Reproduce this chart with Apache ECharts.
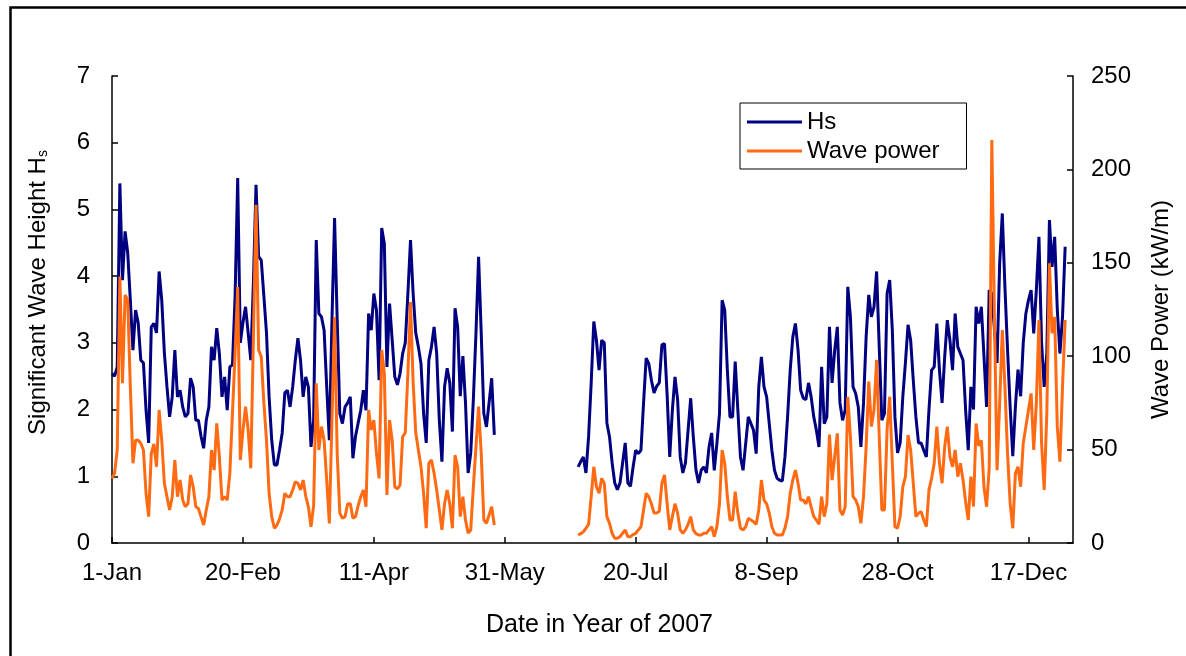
<!DOCTYPE html>
<html>
<head>
<meta charset="utf-8">
<script src="https://cdn.jsdelivr.net/npm/echarts@6/dist/echarts.min.js"></script>
<style>
html,body{margin:0;padding:0;background:#fff;}
#chart{width:1186px;height:656px;}
</style>
</head>
<body>
<div id="chart"></div>
<script>
// x tick labels (every 50 days from 1-Jan-2007)
const xTickLabels = ['1-Jan','20-Feb','11-Apr','31-May','20-Jul','8-Sep','28-Oct','17-Dec'];
const xTickStep = 50;
const xAxisEndDay = 367;

// Daily values, period 1: day 0 (1-Jan) .. day 146
const part1StartDay = 0;
const hsPart1 = [
 2.54,2.50,2.64,5.39,3.94,4.67,4.35,3.64,2.89,3.49,
 3.30,2.74,2.70,1.99,1.50,3.24,3.29,3.15,4.07,3.64,
 2.85,2.34,1.89,2.19,2.89,2.19,2.29,2.04,1.89,1.94,
 2.47,2.34,1.84,1.84,1.60,1.42,1.84,2.04,2.94,2.74,
 3.22,2.84,2.19,2.49,1.99,2.64,2.67,3.69,5.47,
 3.00,3.30,3.54,3.15,2.74,3.90,5.37,4.29,4.24,3.70,
 3.15,2.19,1.54,1.17,1.17,1.40,1.65,2.25,2.29,2.04,
 2.34,2.74,3.07,2.74,2.19,2.49,2.34,1.44,1.84,4.54,
 3.44,3.39,3.19,2.34,1.54,3.34,4.87,3.34,1.94,1.79,
 2.04,2.10,2.19,1.27,1.60,1.80,1.99,2.29,1.99,3.44,
 3.19,3.74,3.49,2.44,4.72,4.49,2.64,3.59,3.04,2.49,
 2.37,2.54,2.84,3.00,3.74,4.54,3.74,3.15,2.94,2.69,
 1.94,1.50,2.74,2.94,3.24,2.84,1.84,1.22,2.34,2.62,
 2.40,1.67,3.52,3.24,2.20,2.80,2.10,1.05,1.35,2.15,
 3.15,4.29,3.15,1.94,1.74,2.10,2.47,1.62
];
const powerPart1 = [
 34.6,37.4,50,142.6,85.5,132.8,130,83.7,42.7,55,
 55,53.4,49.8,26.6,14.1,48,53,40.8,71.2,55,
 32,24.8,17.7,24.8,44.4,24.8,33.7,23,19.4,21,
 36.4,30.1,19.4,18.5,14,9.6,17.7,24.8,49.8,39,
 64,46.2,23,24.8,23,37.4,69.4,101.6,137,
 44.4,60,73,60.5,40,110,181,103.3,99.7,75,
 55,26.6,14.1,7.9,9.6,13,17.7,26.6,24.8,24.8,
 28.4,32.8,32,28.4,33.7,25,19.4,8.7,20,85.5,
 49.8,62.3,55,33.7,10.5,65.8,121,48,16,13.2,
 14.1,21,21,13.2,14.1,20,24.8,28.4,19.4,71.2,
 60.5,65.8,48,34.6,103.3,90.8,25.7,65.8,55,30,
 29,31,57,59,90.8,129,86,59,49.8,40.8,
 26.6,7.9,42.7,44.4,37.4,28.4,17.7,7,21,28.4,
 21,7.9,47,40.8,14.1,24.8,12.3,5.3,7,30,
 51.6,73,48,12.3,10.5,15,19.4,9.6
];

// Daily values, period 2: day 178 .. day 364
const part2StartDay = 178;
const hsPart2 = [
 1.14,1.22,1.29,1.05,1.59,2.40,3.32,3.04,2.59,3.04,
 3.00,1.80,1.59,1.20,0.90,0.80,0.90,1.20,1.50,0.90,
 0.85,1.14,1.39,1.34,1.39,2.10,2.77,2.69,2.44,2.25,
 2.35,2.40,2.97,2.99,2.22,1.29,1.99,2.49,2.15,1.29,
 1.05,1.20,1.69,2.17,1.59,1.10,0.90,
 1.09,1.14,1.05,1.44,1.65,1.09,1.49,1.94,3.64,3.49,
 2.59,1.89,1.89,2.72,2.00,1.29,1.09,1.49,1.89,1.79,
 1.69,1.34,2.34,2.79,2.34,2.19,1.79,1.39,1.09,0.97,
 0.94,0.93,1.29,1.89,2.59,3.09,3.29,2.89,2.29,2.17,
 2.15,2.40,2.19,1.89,1.69,1.44,2.64,1.79,1.89,3.24,
 2.40,2.89,
 3.24,2.10,1.84,1.99,3.84,3.39,2.34,2.24,2.04,1.44,
 2.10,3.09,3.72,3.39,3.54,4.07,2.94,1.84,1.94,3.74,
 3.94,3.19,1.89,1.35,1.50,2.19,2.70,3.27,3.04,2.44,
 1.89,1.50,1.50,1.39,1.29,2.00,2.59,2.64,3.29,2.59,
 2.10,2.79,3.34,3.04,2.59,3.44,2.94,
 2.84,2.74,1.99,1.39,2.34,2.00,3.54,3.29,3.54,2.80,
 2.04,3.79,3.74,3.20,2.70,4.20,4.94,3.84,2.90,2.04,
 1.30,2.04,2.60,2.20,3.00,3.44,3.64,3.79,3.14,3.79,
 4.59,3.00,2.34,2.84,4.84,4.14,4.59,3.50,2.84,3.39,4.44
];
const powerPart2 = [
 4.3,5,6,7.9,10,24.8,40.8,30.1,26.6,34.6,
 31.9,14.1,10.5,5.2,2.5,2.5,3.4,5.2,7,3.4,
 3.4,4.5,5.2,7,8.7,17.7,26.6,24.8,21,16,
 16,17,32,36.4,21,7,14.1,21,16,7,
 5.2,7,10,14.1,7,5,4.3,
 4.3,5.2,5.2,7,8.7,3.4,8.7,21,49.8,42.7,
 25,12.3,12.3,27.5,16,7.9,7,8.7,13.2,12.3,
 11.4,10,17.7,33.7,23,21,16,8.7,5.2,4.3,
 4.3,4.3,8,14.1,26.6,33.7,39,32,23,23,
 21,24.8,19.4,14.1,12.3,10,24.8,14.1,21,58,
 33.7,46.2,
 58.7,17.7,15,19.4,78.3,57,24.8,23,19.4,10.5,
 24.8,51.6,86.4,62.3,71.2,98,57,17.7,17.7,60.5,
 78.3,42.7,8.7,7.9,14.1,30.1,35.5,57.8,49.8,32,
 14.1,15.9,16.8,12.3,8.7,28.4,34.6,42.7,62.3,42.7,
 32,51.6,62.3,46.2,40.8,49.8,35.5,
 42.7,33.7,22,12.3,35.5,19.5,64,52,55,30,
 19.4,40,215.7,120,39,74.8,114,83.7,48,21.2,
 7.9,37.3,40.8,30.1,53.4,62.3,71.2,80.1,49.8,74.8,
 119.4,53.4,28.4,69.4,149.7,112.3,121,62.3,43.5,83.7,119.4
];

function buildSeries(p1, s1, p2, s2) {
  const out = p1.map((v, i) => [s1 + i, v]);
  out.push([(s1 + p1.length + s2) / 2, '-']); // data gap
  p2.forEach((v, i) => out.push([s2 + i, v]));
  return out;
}

const FONT = '"Liberation Sans", Arial, sans-serif';
const FS = 24;
const NAVY = '#000080';
const ORANGE = '#ff6a13';
const chart = echarts.init(document.getElementById('chart'), null, {renderer: 'canvas'});
const axisCommon = {
  axisLine: {show: true, lineStyle: {color: '#000', width: 1.5}},
  axisTick: {show: true, inside: true, length: 6, lineStyle: {color: '#000', width: 1.5}},
  splitLine: {show: false},
  axisLabel: {color: '#000', fontSize: FS, fontFamily: FONT},
  nameTextStyle: {color: '#000', fontSize: FS, fontFamily: FONT}
};

chart.setOption({
  animation: false,
  backgroundColor: '#fff',
  graphic: [{
    type: 'rect', left: 8, top: 5, silent: true,
    shape: {x: 0, y: 0, width: 1200, height: 700},
    style: {fill: 'none', stroke: '#000', lineWidth: 2.5}
  }],
  grid: {left: 112, right: 113, top: 76, bottom: 113, containLabel: false},
  legend: {
    orient: 'vertical', left: 740, top: 103,
    padding: [7, 27, 6, 7], itemGap: 5,
    itemWidth: 55, itemHeight: 3,
    borderColor: '#000', borderWidth: 1,
    textStyle: {color: '#000', fontSize: FS, fontFamily: FONT},
    data: [{name: 'Hs', icon: 'rect'}, {name: 'Wave power', icon: 'rect'}]
  },
  xAxis: Object.assign({}, axisCommon, {
    type: 'value', min: 0, max: xAxisEndDay, interval: xTickStep,
    name: 'Date in Year of 2007', nameLocation: 'middle', nameGap: 70,
    nameTextStyle: {color: '#000', fontSize: 25, fontFamily: FONT, padding: [0, 0, 0, 14]},
    axisLabel: Object.assign({}, axisCommon.axisLabel, {
      margin: 18, showMaxLabel: false,
      formatter: v => (v % xTickStep === 0 && v / xTickStep < xTickLabels.length) ? xTickLabels[v / xTickStep] : ''
    })
  }),
  yAxis: [
    Object.assign({}, axisCommon, {
      type: 'value', min: 0, max: 7, interval: 1, position: 'left',
      name: '{a|Significant Wave Height H}{s|s}', nameLocation: 'middle', nameGap: 62, nameRotate: 90,
      nameTextStyle: {color: '#000', fontSize: FS, fontFamily: FONT, padding: [0, 0, 0, 34],
        rich: {a: {fontSize: FS, fontFamily: FONT, color: '#000'},
               s: {fontSize: 14, fontFamily: FONT, color: '#000', verticalAlign: 'bottom', padding: [9, 0, 0, 0]}}},
      axisLabel: Object.assign({}, axisCommon.axisLabel, {margin: 22})
    }),
    Object.assign({}, axisCommon, {
      type: 'value', min: 0, max: 250, interval: 50, position: 'right',
      name: 'Wave Power (kW/m)', nameLocation: 'middle', nameGap: 76, nameRotate: 90,
      axisLabel: Object.assign({}, axisCommon.axisLabel, {margin: 18})
    })
  ],
  series: [
    {
      name: 'Hs', type: 'line', yAxisIndex: 0, showSymbol: false, symbol: 'none',
      connectNulls: false,
      lineStyle: {color: NAVY, width: 3}, itemStyle: {color: NAVY},
      data: buildSeries(hsPart1, part1StartDay, hsPart2, part2StartDay)
    },
    {
      name: 'Wave power', type: 'line', yAxisIndex: 1, showSymbol: false, symbol: 'none',
      connectNulls: false,
      lineStyle: {color: ORANGE, width: 3}, itemStyle: {color: ORANGE},
      data: buildSeries(powerPart1, part1StartDay, powerPart2, part2StartDay)
    }
  ]
});
</script>
</body>
</html>
